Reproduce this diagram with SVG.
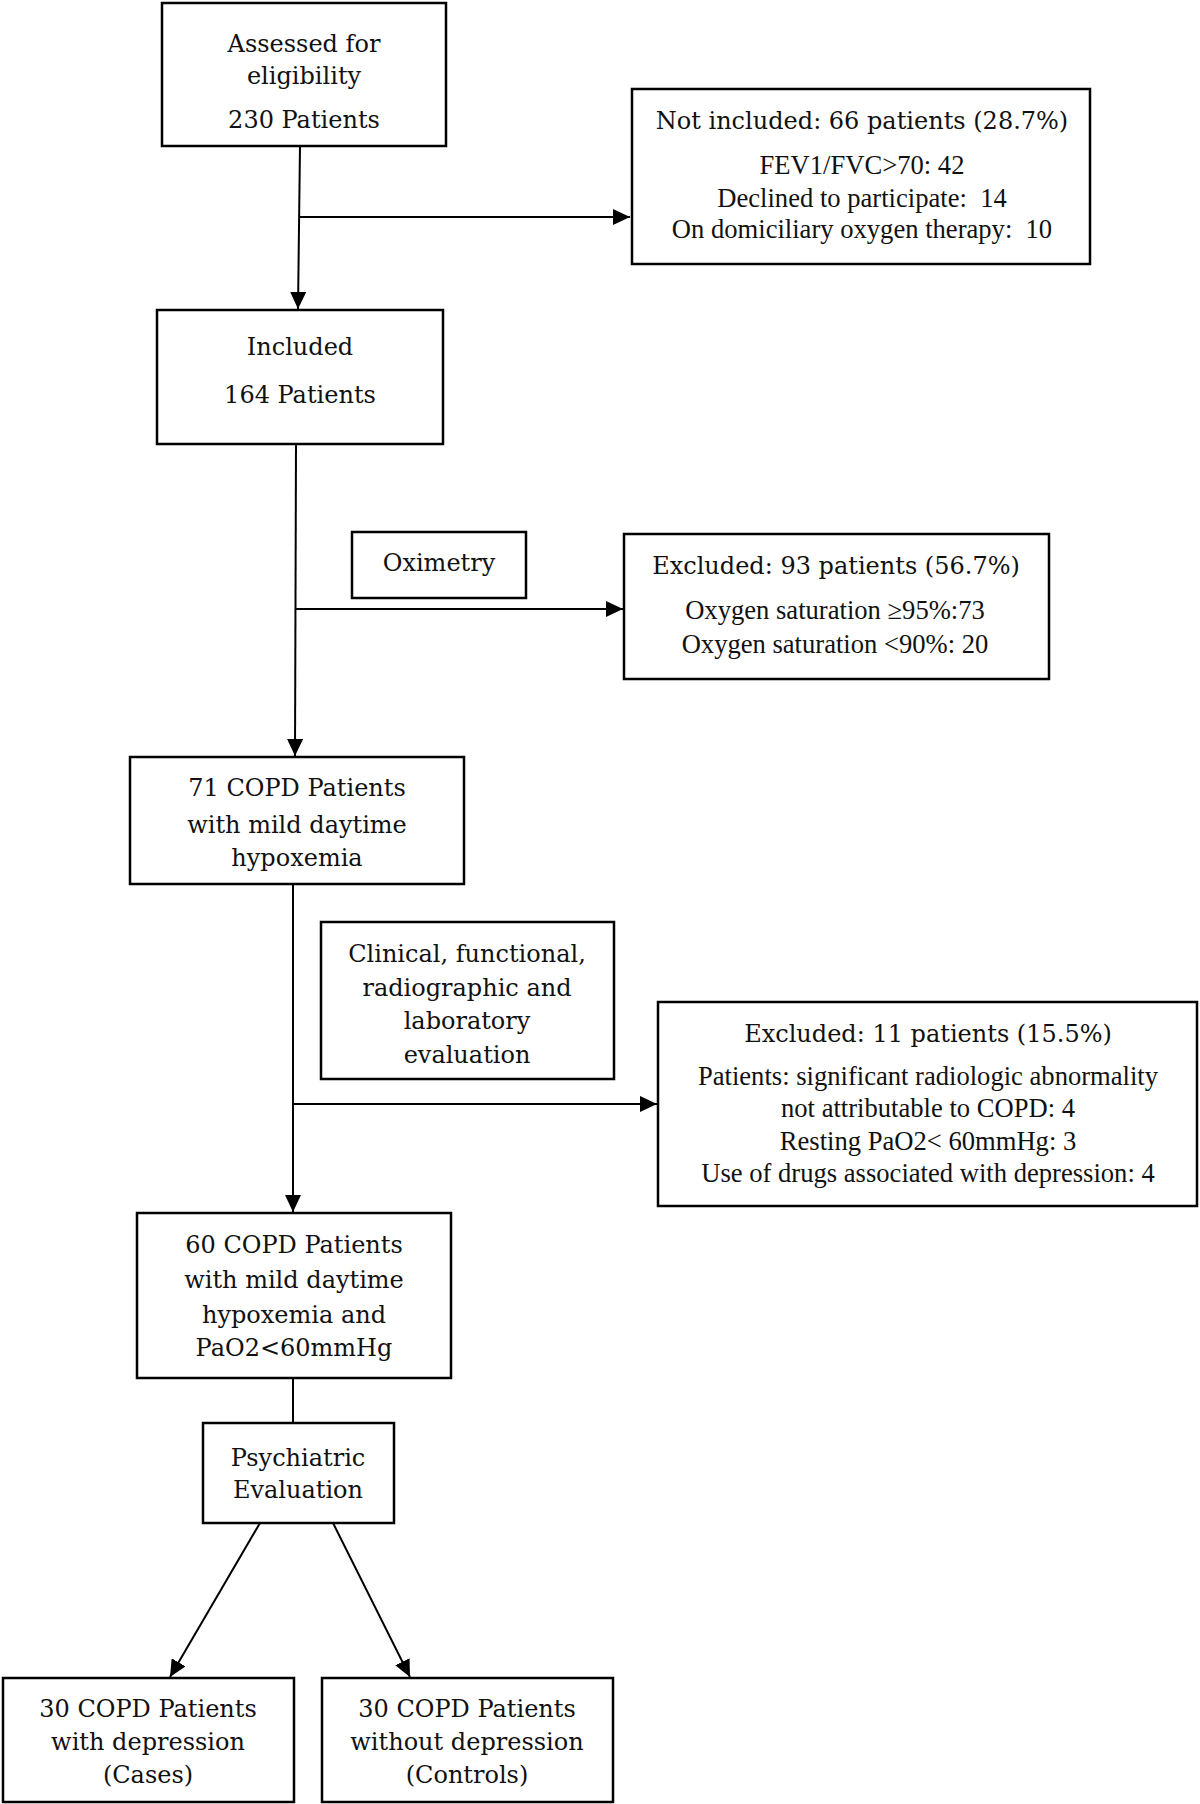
<svg xmlns="http://www.w3.org/2000/svg" width="1200" height="1804" viewBox="0 0 1200 1804">
<defs>
<marker id="ah" markerUnits="userSpaceOnUse" markerWidth="18" markerHeight="16" refX="17" refY="8" orient="auto">
<path d="M0,0 L17,8 L0,16 z" fill="#000"/>
</marker>
<style>
.box{fill:#fff;stroke:#000;stroke-width:2.5}
.m{font-family:"DejaVu Serif","Liberation Serif",serif;font-size:24px;fill:#111;text-anchor:middle}
.d{font-family:"Liberation Serif","Times New Roman",serif;font-size:26.6px;fill:#111;text-anchor:middle}
.ln{fill:none;stroke:#000;stroke-width:2}
</style>
</defs>
<rect width="1200" height="1804" fill="#fff"/>
<g id="connectors">
<line class="ln" x1="300" y1="146" x2="298" y2="309" marker-end="url(#ah)"/>
<line class="ln" x1="299" y1="217" x2="630" y2="217" marker-end="url(#ah)"/>
<line class="ln" x1="296" y1="444" x2="295" y2="756" marker-end="url(#ah)"/>
<line class="ln" x1="296" y1="609" x2="623" y2="609" marker-end="url(#ah)"/>
<line class="ln" x1="293" y1="884" x2="293" y2="1212" marker-end="url(#ah)"/>
<line class="ln" x1="293" y1="1104" x2="657" y2="1104" marker-end="url(#ah)"/>
<line class="ln" x1="293" y1="1378" x2="293" y2="1423"/>
<line class="ln" x1="260" y1="1523" x2="170" y2="1677" marker-end="url(#ah)"/>
<line class="ln" x1="333" y1="1523" x2="410" y2="1677" marker-end="url(#ah)"/>
</g>
<g id="n-assessed">
<rect class="box" x="162" y="3" width="284" height="143"/>
<text class="m" x="304" y="52">Assessed for</text>
<text class="m" x="304" y="84">eligibility</text>
<text class="m" x="304" y="128">230 Patients</text>
</g>
<g id="n-notincluded">
<rect class="box" x="632" y="89" width="458" height="175"/>
<text class="m" x="862" y="129">Not included: 66 patients (28.7%)</text>
<text class="d" x="862" y="174">FEV1/FVC&gt;70: 42</text>
<text class="d" x="862" y="207" xml:space="preserve">Declined to participate:  14</text>
<text class="d" x="862" y="238" xml:space="preserve">On domiciliary oxygen therapy:  10</text>
</g>
<g id="n-included">
<rect class="box" x="157" y="310" width="286" height="134"/>
<text class="m" x="300" y="355">Included</text>
<text class="m" x="300" y="403">164 Patients</text>
</g>
<g id="n-oximetry">
<rect class="box" x="352" y="532" width="174" height="66"/>
<text class="m" x="439" y="571">Oximetry</text>
</g>
<g id="n-excluded93">
<rect class="box" x="624" y="534" width="425" height="145"/>
<text class="m" x="836" y="574">Excluded: 93 patients (56.7%)</text>
<text class="d" x="835" y="619">Oxygen saturation ≥95%:73</text>
<text class="d" x="835" y="653">Oxygen saturation &lt;90%: 20</text>
</g>
<g id="n-71copd">
<rect class="box" x="130" y="757" width="334" height="127"/>
<text class="m" x="297" y="796">71 COPD Patients</text>
<text class="m" x="297" y="833">with mild daytime</text>
<text class="m" x="297" y="866">hypoxemia</text>
</g>
<g id="n-clinical">
<rect class="box" x="321" y="922" width="293" height="157"/>
<text class="m" x="467" y="962">Clinical, functional,</text>
<text class="m" x="467" y="996">radiographic and</text>
<text class="m" x="467" y="1029">laboratory</text>
<text class="m" x="467" y="1063">evaluation</text>
</g>
<g id="n-excluded11">
<rect class="box" x="658" y="1002" width="539" height="204"/>
<text class="m" x="928" y="1042">Excluded: 11 patients (15.5%)</text>
<text class="d" x="928" y="1085">Patients: significant radiologic abnormality</text>
<text class="d" x="928" y="1117">not attributable to COPD: 4</text>
<text class="d" x="928" y="1150">Resting PaO2&lt; 60mmHg: 3</text>
<text class="d" x="928" y="1182">Use of drugs associated with depression: 4</text>
</g>
<g id="n-60copd">
<rect class="box" x="137" y="1213" width="314" height="165"/>
<text class="m" x="294" y="1253">60 COPD Patients</text>
<text class="m" x="294" y="1288">with mild daytime</text>
<text class="m" x="294" y="1323">hypoxemia and</text>
<text class="m" x="294" y="1356">PaO2&lt;60mmHg</text>
</g>
<g id="n-psych">
<rect class="box" x="203" y="1423" width="191" height="100"/>
<text class="m" x="298" y="1466">Psychiatric</text>
<text class="m" x="298" y="1498">Evaluation</text>
</g>
<g id="n-cases">
<rect class="box" x="3" y="1678" width="291" height="124"/>
<text class="m" x="148" y="1717">30 COPD Patients</text>
<text class="m" x="148" y="1750">with depression</text>
<text class="m" x="148" y="1783">(Cases)</text>
</g>
<g id="n-controls">
<rect class="box" x="322" y="1678" width="291" height="124"/>
<text class="m" x="467" y="1717">30 COPD Patients</text>
<text class="m" x="467" y="1750">without depression</text>
<text class="m" x="467" y="1783">(Controls)</text>
</g>
</svg>
